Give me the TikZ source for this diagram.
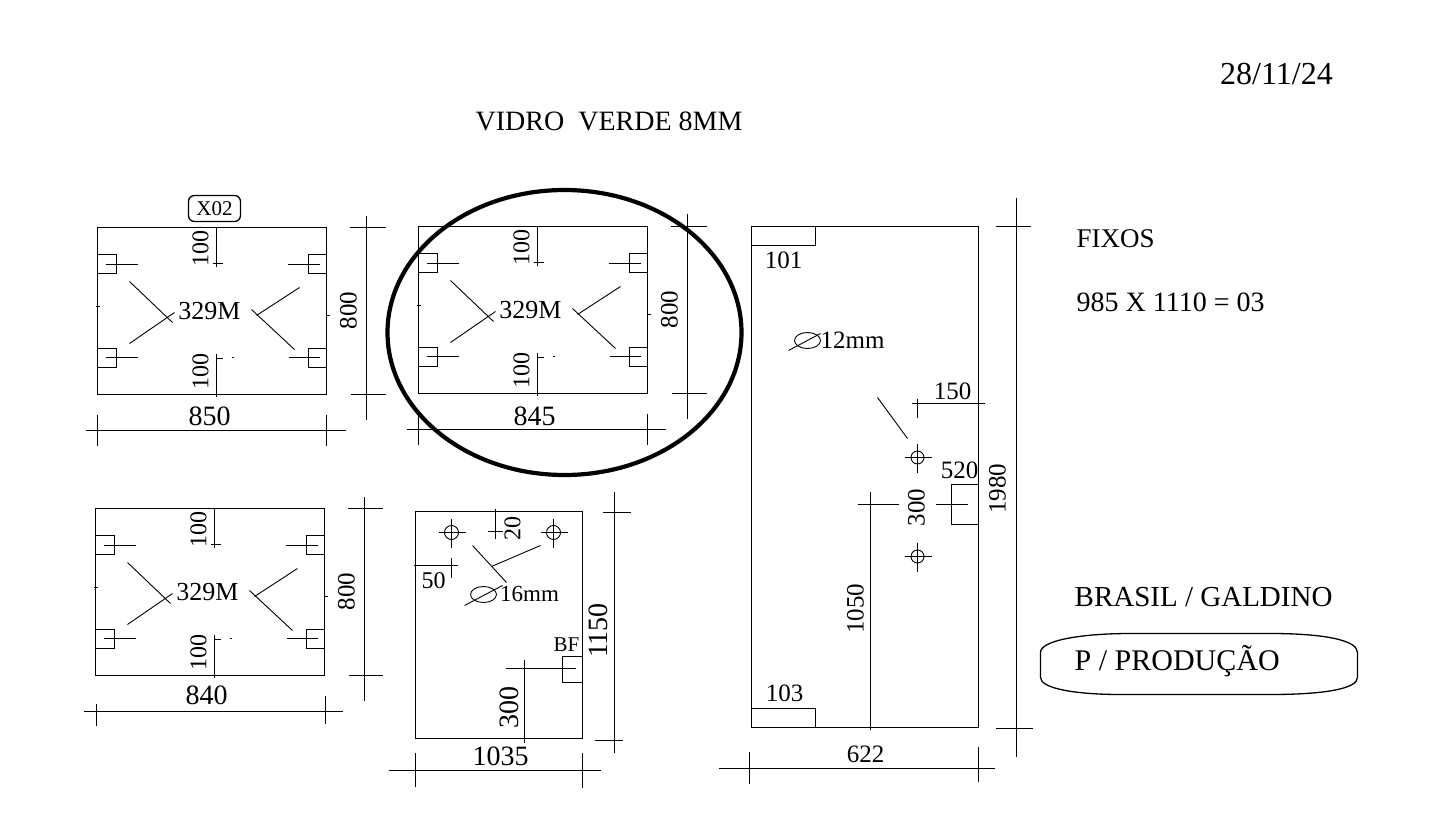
\documentclass[tikz,border=0pt]{standalone}
\usepackage{fontspec}
\setmainfont{Liberation Serif}
\newcommand\fsz[1]{\fontsize{#1}{#1}\selectfont}
\tikzset{
  part/.style={line width=1.3pt,black},
  thin part/.style={line width=0.9pt,black},
  lbl/.style={inner sep=0pt,text=black,font=\fsz{25}},
  sm/.style={lbl,font=\fsz{24}},
  big/.style={lbl,font=\fsz{28}},
}
% one 329M panel, drawn at the coordinates of the first panel and shifted
\newcommand\panelbody[3]{%
\begin{scope}[shift={(#1,#2)}]
  \draw[part] (97,227) rectangle (326,394);
  \draw[part] (97,254) rectangle (116,273);
  \draw[part] (97,348) rectangle (116,367);
  \draw[part] (308,254) rectangle (326,273);
  \draw[part] (308,348) rectangle (326,367);
  \draw[part] (105,264) -- (137,264);
  \draw[part] (105,357) -- (137,357);
  \draw[part] (287,264) -- (319,264);
  \draw[part] (288,357) -- (319,357);
  \draw[part] (216,227) -- (216,266) (212,263) -- (222,263);
  \draw[part] (216,353) -- (216,396) (216,358) -- (222,358);
  \draw[thin part] (231,357) -- (233,357);
  \draw[thin part] (129,281) -- (172,322) (129,343) -- (174,312);
  \draw[thin part] (251,309) -- (294,349) (256,315) -- (299,287);
  \draw[thin part] (95,306) -- (99,306) (325,315) -- (329,315);
  \node[sm] (#3a) at (200,248) {\rotatebox{90}{100}};
  \node[sm] (#3b) at (200,371) {\rotatebox{90}{100}};
  \node[lbl,font=\fsz{26}] (#3c) at (209,311) {329M};
  \node[lbl] (#3d) at (348,310) {\rotatebox{90}{800}};
\end{scope}}
\newcommand\hole[3]{%
  \draw[thin part] (#1,#2) circle (#3);
  \draw[part] (#1-13,#2) -- (#1+14,#2) (#1,#2-14) -- (#1,#2+15);}
\begin{document}
\begin{tikzpicture}[x=1pt,y=-1pt]
\useasboundingbox (0,0) rectangle (1438,819);
\fill[white] (0,0) rectangle (1438,819);
\begin{scope}[shift={(0.5,0.5)}]
% headers
\node[lbl,font=\fsz{32}] (date) at (1276,74) {28/11/24};
\node[lbl,anchor=west,font=\fsz{28}] (title) at (475,121) {VIDRO\ \ VERDE 8MM};
\node[lbl,anchor=west,font=\fsz{27}] (fixos) at (1076,238) {FIXOS};
\node[lbl,anchor=west,font=\fsz{28}] (qty) at (1076,302) {985 X 1110 = 03};
\node[lbl,anchor=west,font=\fsz{29}] (client) at (1074,597) {BRASIL / GALDINO};
\node[lbl,anchor=west,font=\fsz{30}] (prod) at (1074,661) {P / PRODUÇÃO};
\draw[part] (1040,652) .. controls (1040,640) and (1080,633) .. (1130,633)
  -- (1270,633) .. controls (1325,633) and (1357,640) .. (1357,652)
  -- (1357,677) .. controls (1357,688) and (1325,694) .. (1270,694)
  -- (1120,694) .. controls (1075,694) and (1040,688) .. (1040,677) -- cycle;
% panel 1
\panelbody{0}{0}{p}
\draw[part,rounded corners=6pt] (188,195) rectangle (240,221);
\node[lbl,font=\fsz{21}] (x02) at (214,208) {X02};
\draw[part] (366,215) -- (366,419) (349,227) -- (385,227) (350,394) -- (385,394);
\draw[part] (85,430) -- (345,430) (97,414) -- (97,445) (326,414) -- (326,445);
\node[big] (w1) at (209,416) {850};
% panel 2
\panelbody{321}{-1}{q}
\draw[part] (687,213) -- (687,418) (670,226) -- (706,226) (671,393) -- (706,393);
\draw[part] (406,429) -- (665,429) (418,413) -- (418,444) (647,413) -- (647,444);
\node[big] (w2) at (534,416) {845};
\draw[line width=4.2pt,black] (564,332) ellipse (177 and 142.5);
% panel 3
\panelbody{-2}{281}{r}
\draw[part] (364,496) -- (364,700) (347,508) -- (382,508) (348,675) -- (382,675);
\draw[part] (83,711) -- (342,711) (96,703) -- (96,725) (325,695) -- (325,723);
\node[big] (w3) at (206,695) {840};
% middle panel
\draw[part] (415,511) rectangle (582,738);
\hole{451}{532}{7}
\hole{553}{532}{7}
\draw[part] (495,508) -- (495,538) (487,531) -- (502,531);
\node[sm] (d20) at (512,528) {\rotatebox{90}{20}};
\draw[part] (413,565) -- (457,565) (451,557) -- (451,577);
\node[sm] (d50) at (433,580) {50};
\draw[thin part] (472,545) -- (506,582) (491,566) -- (540,545);
\draw[thin part] (483,594) ellipse (13 and 8);
\draw[thin part] (464,605) -- (502,585);
\node[lbl,font=\fsz{23}] (d16) at (529,593) {16mm};
\node[lbl,font=\fsz{21}] (bf) at (566,644) {BF};
\draw[part] (582,656) -- (562,656) -- (562,682) -- (582,682);
\draw[part] (505,668) -- (575,668) (524,659) -- (524,742);
\node[big] (d300a) at (509,707) {\rotatebox{90}{300}};
\draw[part] (614,491) -- (614,752) (602,512) -- (630,512) (594,740) -- (622,740);
\node[big] (d1150) at (598,630) {\rotatebox{90}{1150}};
\draw[part] (388,770) -- (600,770) (415,752) -- (415,786) (582,752) -- (582,787);
\node[big] (w4) at (500,756) {1035};
% right panel
\draw[part] (751,226) rectangle (978,727);
\draw[part] (751,245) -- (815,245) -- (815,226);
\draw[part] (751,708) -- (815,708) -- (815,727);
\node[lbl] (d101) at (783,260) {101};
\node[lbl] (d103) at (784,693) {103};
\draw[thin part] (807,340) ellipse (13 and 8);
\draw[thin part] (788,350) -- (820,333);
\node[lbl,font=\fsz{25}] (d12) at (852,340) {12mm};
\draw[part] (911,403) -- (984,403) (917,398) -- (917,417);
\node[lbl] (d150) at (952,391) {150};
\draw[thin part] (877,397) -- (907,438);
\hole{917}{457}{6.5}
\hole{917}{556}{6.5}
\node[lbl] (d520) at (959,470) {520};
\draw[part] (978,484) -- (951,484) -- (951,524) -- (978,524);
\draw[part] (857,504) -- (898,504) (935,504) -- (967,504) (870,491) -- (870,729);
\node[lbl] (d300b) at (916,507) {\rotatebox{90}{300}};
\node[lbl] (d1050) at (855,608) {\rotatebox{90}{1050}};
\draw[part] (718,768) -- (994,768) (749,751) -- (749,783) (978,746) -- (978,781);
\node[lbl] (w5) at (865,754) {622};
\draw[part] (1016,197) -- (1016,756) (995,226) -- (1030,226) (995,728) -- (1032,728);
\node[lbl] (d1980) at (997,488) {\rotatebox{90}{1980}};
\end{scope}
\end{tikzpicture}
\end{document}
